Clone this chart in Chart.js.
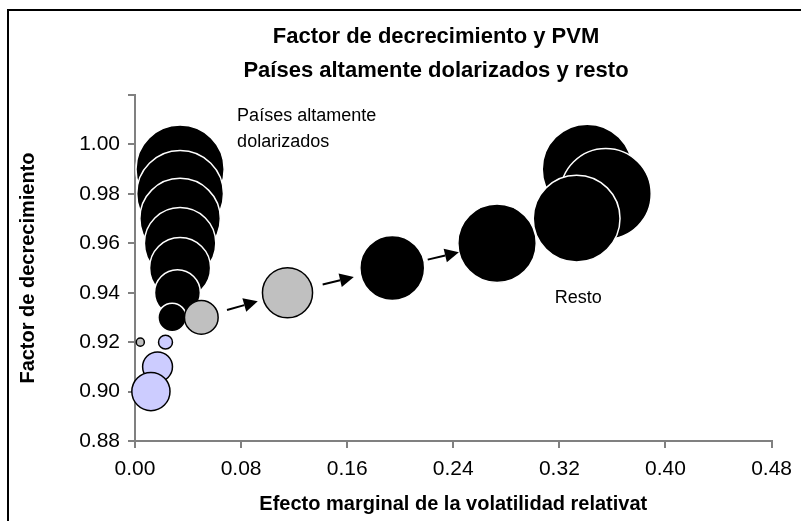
<!DOCTYPE html>
<html>
<head>
<meta charset="utf-8">
<script src="https://cdn.jsdelivr.net/npm/chart.js@4"></script>
<style>
  html, body { margin: 0; padding: 0; background: #fff; }
  #marco { position: absolute; left: 7px; top: 9px; width: 794px; height: 512px;
           border-top: 2px solid #000; border-left: 2px solid #000; box-sizing: border-box; }
  #caja { position: absolute; left: 0; top: 0; width: 801px; height: 521px; }
</style>
</head>
<body>
<div id="marco"></div>
<div id="caja"><canvas id="grafico" width="801" height="521"></canvas></div>
<script>
// Países altamente dolarizados
var dolX = [0.034, 0.034, 0.034, 0.034, 0.034, 0.032, 0.028];
var dolY = [0.99, 0.98, 0.97, 0.96, 0.95, 0.94, 0.93];
var dolTam = [0.96, 0.93, 0.80, 0.63, 0.46, 0.26, 0.10];

// Resto
var restoX = [0.194, 0.273, 0.341, 0.355, 0.333];
var restoY = [0.95, 0.96, 0.99, 0.98, 0.97];
var restoTam = [0.52, 0.76, 1.00, 1.02, 0.93];

// burbujas grises (transición)
var grisX = [0.050, 0.115, 0.004];
var grisY = [0.93, 0.94, 0.92];
var grisTam = [0.14, 0.31, 0.008];

// burbujas lila
var lilaX = [0.023, 0.017, 0.012];
var lilaY = [0.92, 0.91, 0.90];
var lilaTam = [0.024, 0.11, 0.18];

var ticksX = [0, 0.08, 0.16, 0.24, 0.32, 0.40, 0.48];
var ticksY = [0.88, 0.90, 0.92, 0.94, 0.96, 0.98, 1.00, 1.02];

var RADIO_MAX = 45;
var FUENTE = 'Liberation Sans, Arial, sans-serif';

function burbujas(xs, ys, tams) {
    return xs.map(function (x, i) {
        return { x: x, y: ys[i], r: RADIO_MAX * Math.sqrt(tams[i]) };
    });
}

// flechas entre burbujas: [dataset, índice] -> [dataset, índice]
var flechas = [
    [[1, 0], [1, 1]],
    [[1, 1], [2, 0]],
    [[2, 0], [2, 1]]
];

var pluginTextos = {
    id: 'textos',
    afterDraw: function (chart) {
        var ctx = chart.ctx;
        ctx.save();
        ctx.fillStyle = '#000';
        ctx.textBaseline = 'middle';
        ctx.textAlign = 'center';
        ctx.font = 'bold 22px ' + FUENTE;
        ctx.fillText('Factor de decrecimiento y PVM', 436, 37);
        ctx.fillText('Países altamente dolarizados y resto', 436, 71);

        var xs = chart.scales.x, ys = chart.scales.y;
        ctx.textAlign = 'left';
        ctx.font = '18px ' + FUENTE;
        ctx.fillText('Países altamente', xs.getPixelForValue(0.077), ys.getPixelForValue(1.0113));
        ctx.fillText('dolarizados', xs.getPixelForValue(0.077), ys.getPixelForValue(1.0008));
        ctx.fillText('Resto', xs.getPixelForValue(0.3165), ys.getPixelForValue(0.938));
        ctx.restore();
    },
    afterDatasetsDraw: function (chart) {
        var ctx = chart.ctx;
        ctx.save();
        ctx.strokeStyle = '#000';
        ctx.fillStyle = '#000';
        ctx.lineWidth = 2;
        flechas.forEach(function (f) {
            var a = chart.getDatasetMeta(f[0][0]).data[f[0][1]];
            var b = chart.getDatasetMeta(f[1][0]).data[f[1][1]];
            var dx = b.x - a.x, dy = b.y - a.y;
            var d = Math.sqrt(dx * dx + dy * dy);
            var ux = dx / d, uy = dy / d;
            var medio = (a.options.radius + d - b.options.radius) / 2 + 2;
            var ini = medio - 16, fin = medio + 16, punta = 14;
            ctx.beginPath();
            ctx.moveTo(a.x + ux * ini, a.y + uy * ini);
            ctx.lineTo(a.x + ux * (fin - punta), a.y + uy * (fin - punta));
            ctx.stroke();
            var px = a.x + ux * fin, py = a.y + uy * fin;
            var bx = a.x + ux * (fin - punta), by = a.y + uy * (fin - punta);
            ctx.beginPath();
            ctx.moveTo(px, py);
            ctx.lineTo(bx - uy * 7, by + ux * 7);
            ctx.lineTo(bx + uy * 7, by - ux * 7);
            ctx.closePath();
            ctx.fill();
        });
        ctx.restore();
    }
};

var grafico = new Chart(document.getElementById('grafico').getContext('2d'), {
    type: 'bubble',
    data: {
        datasets: [{
            label: 'Lila',
            data: burbujas(lilaX, lilaY, lilaTam),
            backgroundColor: '#ccccff',
            borderColor: '#000',
            borderWidth: 1.5,
            clip: false
        }, {
            label: 'Gris',
            data: burbujas(grisX, grisY, grisTam),
            backgroundColor: '#c0c0c0',
            borderColor: '#000',
            borderWidth: 1.5,
            clip: false
        }, {
            label: 'Resto',
            data: burbujas(restoX, restoY, restoTam),
            backgroundColor: '#000',
            borderColor: '#fff',
            borderWidth: 1.5,
            clip: false
        }, {
            label: 'Países altamente dolarizados',
            data: burbujas(dolX, dolY, dolTam),
            backgroundColor: '#000',
            borderColor: '#fff',
            borderWidth: 1.5,
            clip: false
        }]
    },
    options: {
        responsive: false,
        animation: false,
        layout: { autoPadding: false, padding: { left: 10, top: 95, right: 29, bottom: 0 } },
        plugins: {
            legend: { display: false },
            tooltip: { enabled: false }
        },
        scales: {
            x: {
                min: 0, max: 0.48,
                afterBuildTicks: function (s) { s.ticks = ticksX.map(function (v) { return { value: v }; }); },
                afterFit: function (s) { s.height = 80; },
                ticks: {
                    color: '#000', font: { family: FUENTE, size: 21 }, padding: 9,
                    maxRotation: 0, autoSkip: false,
                    callback: function (v) { return v.toFixed(2); }
                },
                grid: { drawOnChartArea: false, drawTicks: true, tickLength: 7, color: '#808080', lineWidth: 2 },
                border: { display: true, color: '#808080', width: 2 },
                title: {
                    display: true, text: 'Efecto marginal de la volatilidad relativat', color: '#000',
                    font: { family: FUENTE, size: 20, weight: 'bold' }, padding: { top: 0, bottom: 5 }
                }
            },
            y: {
                min: 0.88, max: 1.02,
                afterBuildTicks: function (s) { s.ticks = ticksY.map(function (v) { return { value: v }; }); },
                afterFit: function (s) { s.width = 125; },
                ticks: {
                    color: '#000', font: { family: FUENTE, size: 21 }, padding: 8,
                    callback: function (v) { return v > 1.01 ? '' : v.toFixed(2); }
                },
                grid: { drawOnChartArea: false, drawTicks: true, tickLength: 7, color: '#808080', lineWidth: 2 },
                border: { display: true, color: '#808080', width: 2 },
                title: {
                    display: true, text: 'Factor de decrecimiento', color: '#000',
                    font: { family: FUENTE, size: 20, weight: 'bold' }, padding: { top: 6, bottom: 0 }
                }
            }
        }
    },
    plugins: [pluginTextos]
});
</script>
</body>
</html>
